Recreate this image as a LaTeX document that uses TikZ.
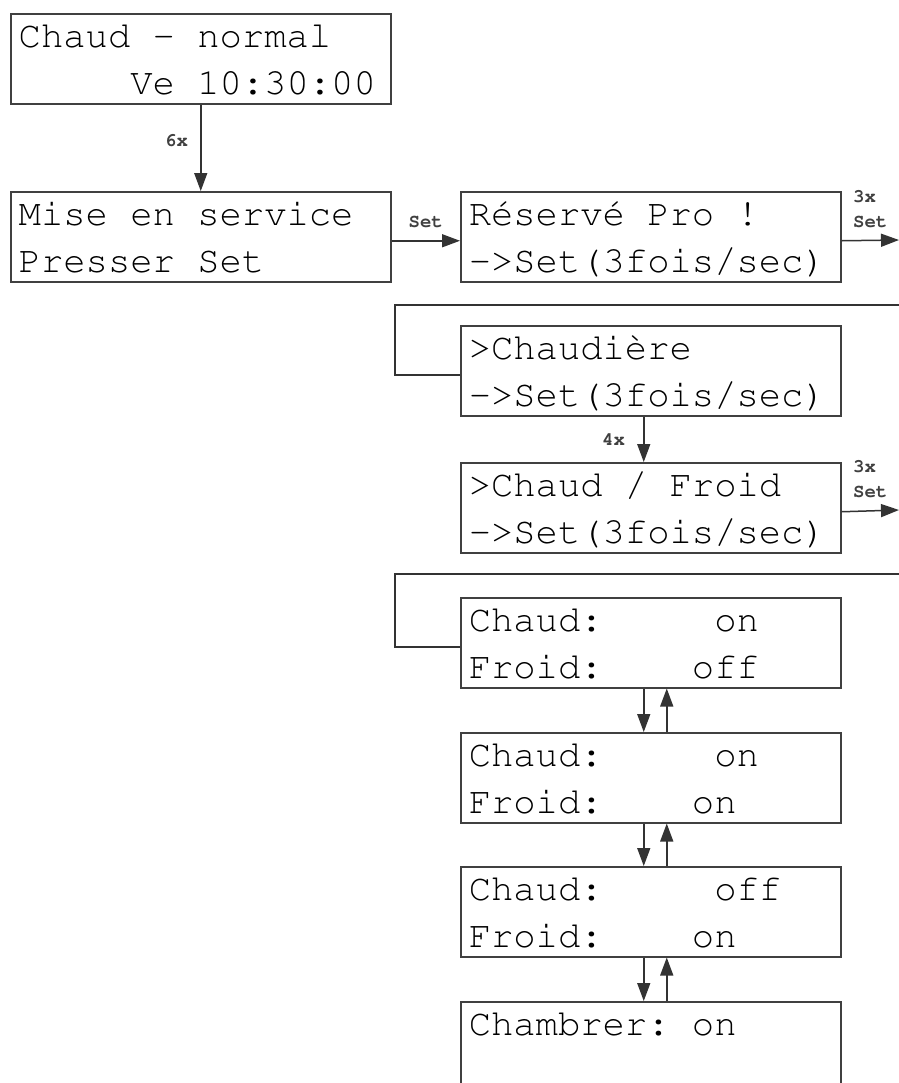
\documentclass[tikz,border=0pt]{standalone}
\usepackage[T1]{fontenc}
\usetikzlibrary{arrows.meta}

% Courier, fixed line height for the two display rows, full-width spaces
\newcommand\lcdfont{\fontencoding{T1}\fontfamily{pcr}\selectfont}
\newcommand\lcdstrut{\rule[-4.5pt]{0pt}{21.5pt}}
\newcommand\lcd[2]{\spaceskip=0pt \xspaceskip=0pt \lcdstrut#1\\\lcdstrut#2}

\begin{document}
\begin{tikzpicture}[x=0.5pt, y=-0.5pt, >={Triangle[length=9pt, width=6.5pt]},
  lcd/.style={rectangle, draw=black!75, line width=0.75pt, anchor=north west,
    inner xsep=4pt, inner ysep=0pt, text width=182pt, minimum height=45pt, align=left,
    font=\fontsize{18.6}{23.5}\lcdfont\frenchspacing},
  lbl/.style={font=\fontsize{9.5}{12.5}\lcdfont\bfseries, inner sep=2pt, text=black!75},
  wire/.style={draw=black!80, line width=0.75pt}]
\useasboundingbox (0,0) rectangle (899,1083);
\node[lcd] (boot) at (10,13) {\lcd{Chaud - normal}{~~~~~Ve 10:30:00}};
\node[lcd] (service) at (10,191) {\lcd{Mise en service}{Presser Set}};
\node[lcd] (pro) at (460,191) {\lcd{Réservé Pro !}{->Set(3fois/sec)}};
\node[lcd] (chaudiere) at (460,325) {\lcd{>Chaudière}{->Set(3fois/sec)}};
\node[lcd] (chfr) at (460,462) {\lcd{>Chaud / Froid}{->Set(3fois/sec)}};
\node[lcd] (modeA) at (460,597) {\lcd{Chaud:~~~~~on}{Froid:~~~~off}};
\node[lcd] (modeB) at (460,732) {\lcd{Chaud:~~~~~on}{Froid:~~~~on}};
\node[lcd] (modeC) at (460,866) {\lcd{Chaud:~~~~~off}{Froid:~~~~on}};
\node[lcd] (chambrer) at (460,1001) {\lcd{Chambrer: on}{}};
\coordinate (edgeA) at (899,240);
\coordinate (wrapA) at (899,305);
\coordinate (edgeB) at (899,510);
\coordinate (wrapB) at (899,574);
\draw[wire, ->] (boot) -- node[lbl, left=4pt, pos=0.42] (n6x) {6x} (service);
\draw[wire, ->] ([yshift=-2pt]service.east) -- node[lbl, above=4pt] (nset) {Set} ([yshift=-2pt]pro.west);
\draw[wire, ->] ([yshift=-2pt]pro.east) -- node[lbl, above=4pt, align=left] (n3xA) {3x\\Set} (edgeA);
\draw[wire] (wrapA) -- ++(-504,0) |- ([yshift=-2pt]chaudiere.west);
\draw[wire, ->] ([xshift=-3.5pt]chaudiere.south) -- node[lbl, left=7pt] (n4x) {4x} ([xshift=-3.5pt]chfr.north);
\draw[wire, ->] ([yshift=-2pt]chfr.east) -- node[lbl, above=4pt, align=left] (n3xB) {3x\\Set} (edgeB);
\draw[wire] (wrapB) -- ++(-504,0) |- ([yshift=-2pt]modeA.west);
\foreach \a/\b in {modeA/modeB, modeB/modeC, modeC/chambrer}{
  \draw[wire, ->] ([xshift=-3.5pt]\a.south) -- ([xshift=-3.5pt]\b.north);
  \draw[wire, ->] ([xshift=8pt]\b.north) -- ([xshift=8pt]\a.south);}
\end{tikzpicture}
\end{document}
